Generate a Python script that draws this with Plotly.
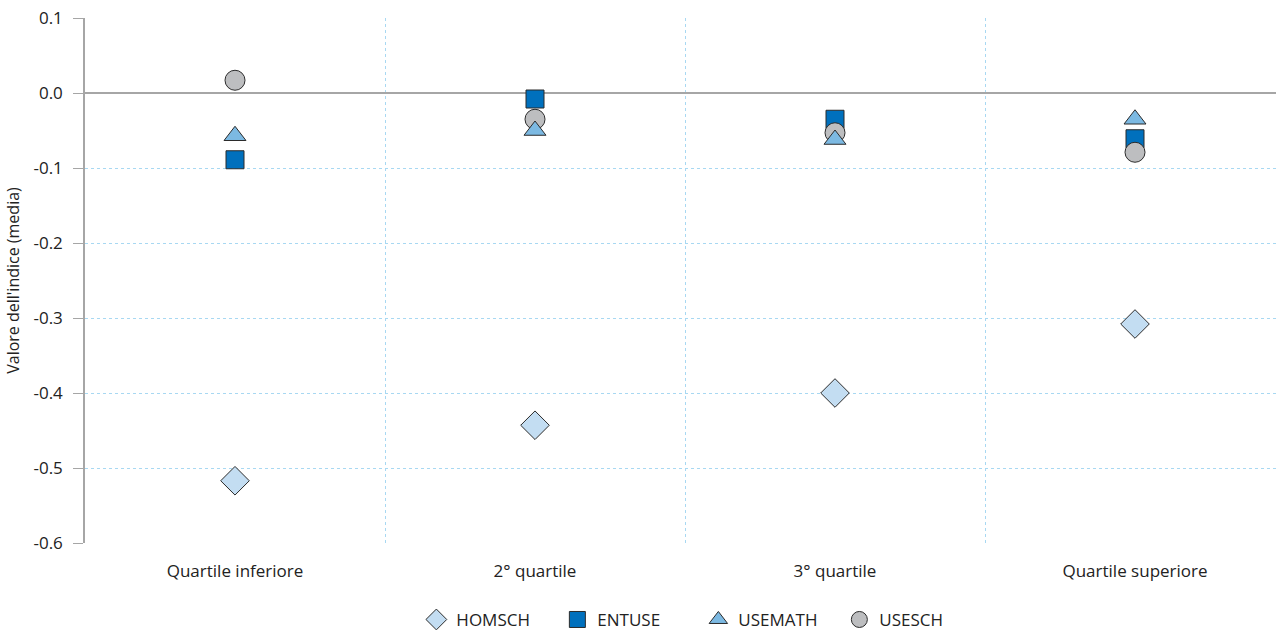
import plotly.graph_objects as go

categories = ["Quartile inferiore", "2° quartile", "3° quartile", "Quartile superiore"]
homsch = [-0.517, -0.443, -0.400, -0.308]
entuse = [-0.089, -0.008, -0.035, -0.061]
usemath = [-0.057, -0.050, -0.062, -0.035]
usesch = [0.017, -0.035, -0.053, -0.079]
y_ticks = [0.1, 0.0, -0.1, -0.2, -0.3, -0.4, -0.5, -0.6]
y_ticklabels = ["0.1", "0.0", "-0.1", "-0.2", "-0.3", "-0.4", "-0.5", "-0.6"]

xpos = list(range(len(categories)))
outline = dict(color="#2b2b2b", width=1)

series = [
    ("HOMSCH", homsch, "diamond", "#c3ddf2", 22, 1),
    ("ENTUSE", entuse, "square", "#0070bd", 18, 2),
    ("USESCH", usesch, "circle", "#bdbec0", 20, 4),
    ("USEMATH", usemath, "triangle-up", "#7cb9e2", 19, 3),
]

grid_col = "#a8d8f2"

fig = go.Figure()
for name, vals, sym, col, sz, rank in series:
    fig.add_trace(go.Scatter(
        x=xpos, y=vals, mode="markers", name=name, legendrank=rank,
        marker=dict(symbol=sym, color=col, size=sz, line=outline),
        hovertemplate="%{y:.3f}<extra>" + name + "</extra>",
    ))

fig.update_layout(
    width=1276, height=630,
    margin=dict(l=85, r=0, t=18, b=87),
    paper_bgcolor="white", plot_bgcolor="white",
    font=dict(family="Open Sans, Noto Sans, sans-serif", size=16, color="#222222"),
    showlegend=True,
    legend=dict(orientation="h", x=0.515, xanchor="center", yref="container",
                y=0.016, yanchor="middle",
                entrywidth=96, font=dict(size=17, color="#222222"), itemsizing="trace"),
)
fig.update_xaxes(
    range=[-0.5, 3.47], tickmode="array", tickvals=xpos, ticktext=categories,
    showgrid=False, zeroline=False, showline=False, ticks="", ticklabelstandoff=16,
    tickfont=dict(size=17),
    minor=dict(tickmode="array", tickvals=[0.5, 1.5, 2.5], showgrid=True,
               gridcolor=grid_col, griddash="dot", gridwidth=1, ticks=""),
    automargin=False, fixedrange=True,
)
fig.update_yaxes(
    range=[-0.6, 0.1], tickmode="array", tickvals=y_ticks, ticktext=y_ticklabels,
    showgrid=True, gridcolor=grid_col, griddash="dot", gridwidth=1,
    zeroline=True, zerolinecolor="#a6a6a6", zerolinewidth=1.5,
    showline=True, linecolor="#a6a6a6", linewidth=1.5,
    ticks="outside", ticklen=10, tickcolor="#a6a6a6", ticklabelstandoff=7,
    tickfont=dict(size=17),
    title=dict(text="Valore dell'indice (media)", font=dict(size=16), standoff=10),
    automargin=False, fixedrange=True,
)
fig.write_html("out.html", config={"displayModeBar": False},
               post_script="document.body.style.margin='0';document.body.style.overflow='hidden';")
